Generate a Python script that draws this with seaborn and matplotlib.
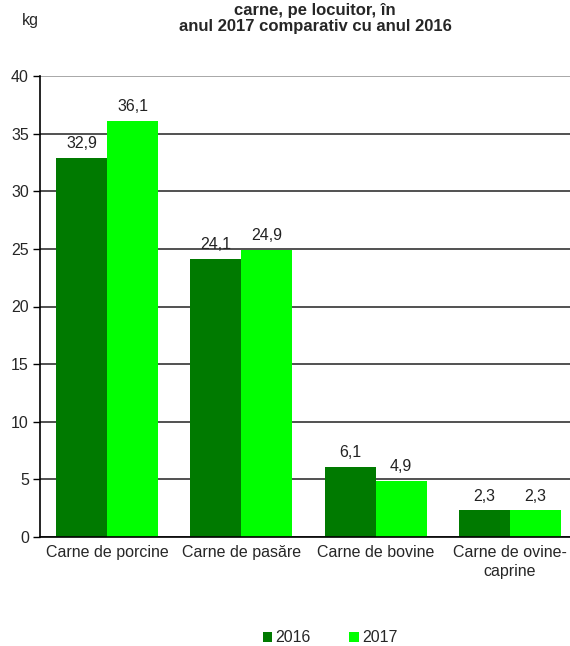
import pandas as pd
import matplotlib
matplotlib.use("Agg")
import matplotlib.pyplot as plt
import seaborn as sns

# ------------------------------
# Data
# ------------------------------
categories = ["Carne de porcine", "Carne de pasăre", "Carne de bovine", "Carne de ovine-\ncaprine"]
years = ["2016", "2017"]
values_2016 = [32.9, 24.1, 6.1, 2.3]
values_2017 = [36.1, 24.9, 4.9, 2.3]
yticks = [0, 5, 10, 15, 20, 25, 30, 35, 40]
colors = ["#007a00", "#00ff00"]

df = pd.DataFrame({
    "cat": categories * 2,
    "year": [years[0]] * 4 + [years[1]] * 4,
    "val": values_2016 + values_2017,
})

sns.set_style("white")
plt.rcParams["font.family"] = ["Liberation Sans", "DejaVu Sans"]

fig = plt.figure(figsize=(5.70, 6.46), dpi=100)
ax = fig.add_axes([40 / 570, 1 - 537 / 646, 537 / 570, 461 / 646])

sns.barplot(data=df, x="cat", y="val", hue="year", palette=colors,
            width=0.76, saturation=1, linewidth=0, ax=ax, zorder=3)

# value labels
for cont in ax.containers:
    ax.bar_label(cont, labels=[f"{v:.1f}".replace(".", ",") for v in cont.datavalues],
                 padding=5, fontsize=11.5, color="#222222")

ax.set_ylim(0, 40)
ax.set_xlim(-0.5, 3.5)
ax.set_yticks(yticks)
ax.set_yticklabels([str(t) for t in yticks], fontsize=11.5)
ax.grid(axis="y", color="#333333", linewidth=1.2, zorder=0)
ax.set_xlabel("")
ax.set_ylabel("")

# category ticks between groups, labels centred
ax.set_xticks([0, 1, 2, 3])
ax.set_xticklabels(categories, fontsize=11.5, linespacing=1.3)
ax.tick_params(axis="x", length=0, pad=6)
ax.set_xticks([-0.5, 0.5, 1.5, 2.5, 3.5], minor=True)
ax.tick_params(axis="x", which="minor", length=5, width=1, color="black", direction="out")
ax.tick_params(axis="y", length=5, width=1, color="black", direction="out", left=True, pad=3)

for s in ["top", "right"]:
    ax.spines[s].set_visible(False)
for s in ["left", "bottom"]:
    ax.spines[s].set_color("black")
    ax.spines[s].set_linewidth(1.2)
    ax.spines[s].set_zorder(4)

# top gridline lighter
ax.get_ygridlines()[-1].set_color("#999999")

# legend at bottom
handles, labels = ax.get_legend_handles_labels()
ax.legend(handles, labels, loc="center", bbox_to_anchor=(330 / 570, 8 / 646),
          bbox_transform=fig.transFigure, ncol=2, frameon=False, fontsize=11.5,
          handlelength=0.6, handleheight=0.6, handletextpad=0.2, columnspacing=2.4)

# title and unit
fig.text(315 / 570, 1 - 10 / 646, "carne, pe locuitor, în", ha="center", va="center",
         fontsize=12, fontweight="bold")
fig.text(315 / 570, 1 - 27 / 646, "anul 2017 comparativ cu anul 2016", ha="center", va="center",
         fontsize=12, fontweight="bold")
fig.text(30 / 570, 1 - 20 / 646, "kg", ha="center", va="center", fontsize=11.5)

plt.savefig("out.png", dpi=100)
